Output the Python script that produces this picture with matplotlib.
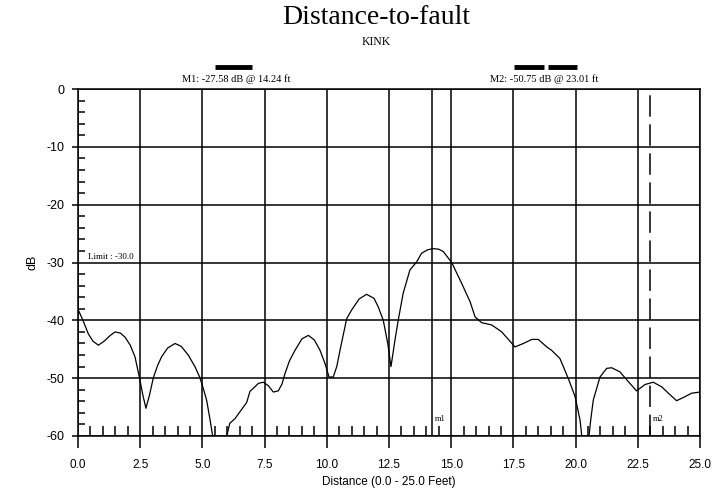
import matplotlib
matplotlib.use("Agg")
import matplotlib.pyplot as plt
from matplotlib.lines import Line2D

# ---- data ----
distance_ft = [0.0, 0.2, 0.41, 0.6, 0.82, 1.05, 1.3, 1.49, 1.7, 1.89, 2.1, 2.29, 2.47,
               2.6, 2.73, 2.87, 3.03, 3.2, 3.36, 3.6, 3.9, 4.15, 4.43, 4.7, 4.9, 5.05,
               5.17, 5.3, 5.45, 5.6, 5.8, 5.98, 6.1, 6.31, 6.51, 6.78, 6.91, 7.18, 7.25,
               7.45, 7.65, 7.85, 8.05, 8.2, 8.32, 8.5, 8.72, 9.0, 9.26, 9.5, 9.73, 9.93,
               10.09, 10.26, 10.4, 10.53, 10.8, 11.0, 11.3, 11.6, 11.9, 12.07, 12.27,
               12.45, 12.58, 12.74, 12.87, 13.07, 13.34, 13.61, 13.81, 14.05, 14.28,
               14.5, 14.68, 15.02, 15.42, 15.76, 15.96, 16.22, 16.63, 17.03, 17.3,
               17.56, 17.9, 18.24, 18.5, 18.84, 19.04, 19.37, 19.71, 19.98, 20.18,
               20.3, 20.4, 20.49, 20.6, 20.71, 20.98, 21.25, 21.45, 21.78, 22.12,
               22.45, 22.79, 23.12, 23.46, 23.73, 24.06, 24.4, 24.66, 25.0]
return_loss_db = [-38.1, -40.0, -42.3, -43.6, -44.3, -43.6, -42.6, -42.0, -42.2, -42.9, -44.3,
                  -46.3, -49.9, -52.8, -55.2, -53.0, -49.9, -47.8, -46.3, -44.8, -44.0, -44.5,
                  -46.0, -48.0, -49.9, -52.0, -53.8, -57.0, -61.0, -64.0, -63.0, -60.0, -57.8,
                  -57.0, -55.8, -54.2, -52.3, -51.2, -50.9, -50.7, -51.3, -52.4, -52.2, -51.0,
                  -49.2, -47.0, -45.2, -43.2, -42.6, -43.4, -45.2, -47.5, -49.8, -49.8, -48.0,
                  -45.2, -39.7, -38.2, -36.3, -35.5, -36.2, -37.7, -40.0, -44.0, -48.0, -43.4,
                  -40.0, -35.3, -31.3, -29.9, -28.4, -27.8, -27.6, -27.7, -28.1, -30.0, -33.6,
                  -36.8, -39.4, -40.4, -40.8, -42.0, -43.3, -44.6, -44.0, -43.3, -43.3, -44.6,
                  -45.2, -46.6, -50.1, -53.2, -57.3, -62.0, -64.0, -62.0, -57.5, -53.8, -49.8,
                  -48.3, -48.2, -48.9, -50.6, -52.2, -51.1, -50.7, -51.5, -52.6, -53.9, -53.2,
                  -52.6, -52.4]

marker1_ft, marker1_db = 14.24, -27.58
marker2_ft, marker2_db = 23.01, -50.75
limit_db = -30.0
x_ticks = [0.0, 2.5, 5.0, 7.5, 10.0, 12.5, 15.0, 17.5, 20.0, 22.5, 25.0]
y_ticks = [0, -10, -20, -30, -40, -50, -60]

# ---- figure ----
fig = plt.figure(figsize=(7.17, 4.91), dpi=100)
ax = fig.add_axes([78 / 717, 1 - 436 / 491, 622 / 717, 347 / 491])
ax.set_xlim(0, 25)
ax.set_ylim(-60, 0)

sans = "Liberation Sans"
serif = "Liberation Serif"

# grid
for xv in x_ticks:
    ax.axvline(xv, color="black", lw=1.1, zorder=1)
for yv in y_ticks:
    ax.axhline(yv, color="black", lw=1.1, zorder=1)

# marker lines
ax.axvline(marker1_ft, color="black", lw=1.1, zorder=1)
ax.axvline(marker2_ft, color="black", lw=1.1, dashes=(14, 5), zorder=1)

# trace
ax.plot(distance_ft, return_loss_db, color="black", lw=0.9, zorder=3)

for s in ax.spines.values():
    s.set_linewidth(1.1)
    s.set_color("black")

# ticks
ax.set_xticks(x_ticks)
ax.set_xticklabels([f"{v:.1f}" for v in x_ticks], fontfamily=sans, fontsize=8.5)
ax.set_yticks(y_ticks)
ax.set_yticklabels([str(v) for v in y_ticks], fontfamily=sans, fontsize=9)
ax.set_xticks([v * 0.5 for v in range(51) if (v * 0.5) % 2.5 != 0], minor=True)
ax.set_yticks([-v for v in range(0, 61, 2) if v % 10 != 0], minor=True)
ax.tick_params(axis="x", which="major", direction="out", length=8.5, width=1.1, pad=8)
ax.tick_params(axis="y", which="major", direction="out", length=4.5, width=1.1, pad=5)
ax.tick_params(axis="x", which="minor", direction="in", length=7, width=1.1)
ax.tick_params(axis="y", which="minor", direction="in", length=5, width=1.1)

ax.set_xlabel("Distance (0.0 - 25.0 Feet)", fontfamily=sans, fontsize=8.5, labelpad=4)
ax.set_ylabel("dB", fontfamily=sans, fontsize=9, labelpad=6)

# titles
fig.text(376 / 717, 1 - 18 / 491, "Distance-to-fault", fontfamily=serif, fontsize=20,
         ha="center", va="center")
fig.text(376 / 717, 1 - 42 / 491, "KINK", fontfamily=serif, fontsize=8.5,
         ha="center", va="center")

# marker readouts above plot (legend-like)
ax.add_line(Line2D([0.220, 0.280], [1.063, 1.063], transform=ax.transAxes,
                   color="black", lw=3.5, clip_on=False, solid_capstyle="butt"))
ax.text(0.254, 1.027, f"M1: {marker1_db:.2f} dB @ {marker1_ft:.2f} ft",
        transform=ax.transAxes, fontfamily=serif, fontsize=7.5, ha="center", va="center")
for seg in ([0.701, 0.749], [0.755, 0.802]):
    ax.add_line(Line2D(seg, [1.063, 1.063], transform=ax.transAxes,
                       color="black", lw=3.5, clip_on=False, solid_capstyle="butt"))
ax.text(0.750, 1.027, f"M2: {marker2_db:.2f} dB @ {marker2_ft:.2f} ft",
        transform=ax.transAxes, fontfamily=serif, fontsize=7.5, ha="center", va="center")

# limit label
ax.text(0.4, limit_db + 0.3, f"Limit : {limit_db:.1f}", fontfamily=serif, fontsize=6.5,
        ha="left", va="bottom")

# marker tags
ax.text(marker1_ft + 0.1, -57, "m1", fontfamily=serif, fontsize=6, ha="left", va="center")
ax.text(marker2_ft + 0.1, -57, "m2", fontfamily=serif, fontsize=6, ha="left", va="center")

fig.savefig("out.png", dpi=100)
